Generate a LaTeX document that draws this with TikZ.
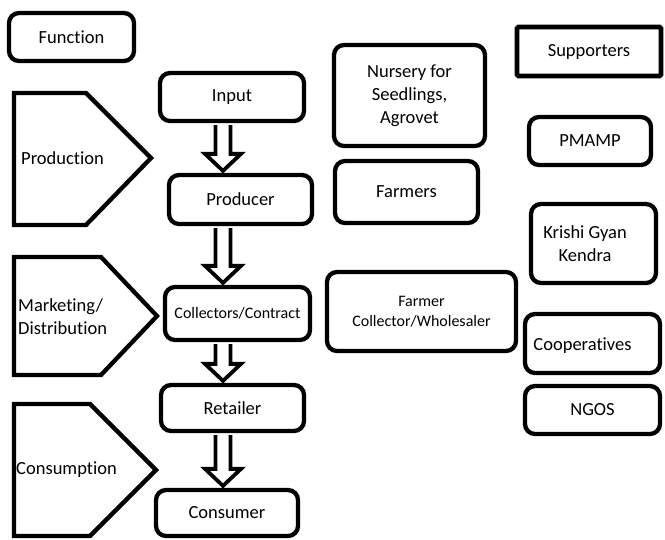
\documentclass[tikz,border=0pt]{standalone}
\usepackage{fontspec}
\setmainfont[Ligatures={NoCommon}]{Carlito}
\usetikzlibrary{calc}
\newcommand\hollowarrow[2]{%
  \draw[harr] let \p1=(#1.south -| ax), \p2=(#2.north -| ax) in
    (\x1-7.5pt,\y1-2pt) -- (\x1-7.5pt,\y2+19pt) -- (\x1-18pt,\y2+19pt) --
    (\x1,\y2+2pt) -- (\x1+18pt,\y2+19pt) -- (\x1+7.5pt,\y2+19pt) -- (\x1+7.5pt,\y1-2pt);}
\begin{document}
\begin{tikzpicture}[x=1pt,y=-1pt,
  lab/.style={inner sep=0pt, align=center, font=\fontsize{18.5}{23}\selectfont},
  box/.style={draw, line width=4.3pt, rounded corners=10pt, inner sep=2pt, align=center,
              font=\fontsize{18.5}{23}\selectfont},
  smallbox/.style={box, font=\fontsize{16}{20}\selectfont},
  harr/.style={draw, line width=3.8pt, fill=white, line join=miter},
  pent/.style={draw, line width=4.3pt, line join=miter}]
\path[use as bounding box] (0,0) rectangle (665,539);
\coordinate (ax) at (223,0);

% function column
\node[box, minimum width=125pt, minimum height=48pt] (function) at (71.5,37) {Function};
\draw[pent] (14,93) -- (86,93) -- (151,158) -- (86,225) -- (14,225) -- cycle;
\node[lab, anchor=west] (production) at (21,158) {Production};
\draw[pent] (14,257) -- (101,257) -- (157,316) -- (101,375) -- (14,375) -- cycle;
\node[lab, anchor=west, align=left] (marketing) at (18,316.5) {Marketing/\\Distribution};
\draw[pent] (14,404) -- (90,404) -- (156,470) -- (90,536) -- (14,536) -- cycle;
\node[lab, anchor=west] (consumption) at (16,470) {Consumption};

% chain
\node[box, minimum width=144pt, minimum height=48pt] (input) at (232,97) {Input};
\node[box, minimum width=143pt, minimum height=49pt] (producer) at (240.5,199.5) {Producer};
\node[smallbox, minimum width=145pt, minimum height=53pt] (collectors) at (237.5,313.5) {Collectors/Contract};
\node[box, minimum width=143pt, minimum height=46pt] (retailer) at (232.5,408) {Retailer};
\node[box, minimum width=142pt, minimum height=46pt] (consumer) at (227,513) {Consumer};

\hollowarrow{input}{producer}
\hollowarrow{producer}{collectors}
\hollowarrow{collectors}{retailer}
\hollowarrow{retailer}{consumer}

% actors
\node[box, minimum width=151pt, minimum height=101pt] (nursery) at (409.5,95.5) {Nursery for\\Seedlings,\\Agrovet};
\node[box, minimum width=143pt, minimum height=62pt] (farmers) at (406.5,192) {Farmers};
\node[smallbox, minimum width=189pt, minimum height=79pt] (farmercoll) at (421.5,311.5) {Farmer\\Collector/Wholesaler};

% supporters
\node[box, rounded corners=1.5pt, line width=4.8pt, minimum width=144pt, minimum height=49pt] (supporters) at (589,51.5) {Supporters};
\node[box, minimum width=122pt, minimum height=48pt] (pmamp) at (590,141) {PMAMP};
\node[box, minimum width=125pt, minimum height=79pt,
      label={[lab, xshift=-8.5pt]center:{Krishi Gyan\\Kendra}}] (krishi) at (593.5,243.5) {};
\node[box, minimum width=135pt, minimum height=59pt,
      label={[lab, xshift=-10pt, yshift=-2.5pt]center:{Cooperatives}}] (coop) at (592.5,343.5) {};
\node[box, minimum width=135pt, minimum height=48pt] (ngos) at (592.5,410) {NGOS};
\end{tikzpicture}
\end{document}
